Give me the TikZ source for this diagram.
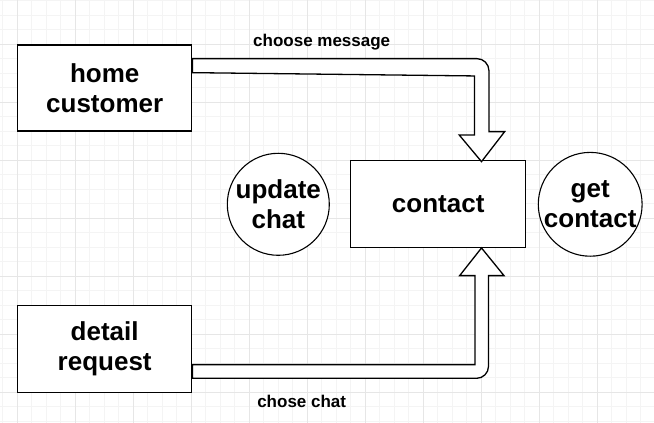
\documentclass[tikz,border=0pt]{standalone}
\usepackage{fontspec}
\setmainfont{Liberation Sans}
\usetikzlibrary{calc}
\definecolor{minorgrid}{HTML}{F4F4F4}
\definecolor{majorgrid}{HTML}{E6E6E6}
\tikzset{
  box/.style={draw, line width=1.3pt, fill=white, minimum width=174pt, minimum height=86pt,
    align=center, font=\fontsize{26}{30}\selectfont\bfseries},
  bubble/.style={draw, circle, line width=1.1pt, fill=white, minimum size=102pt, inner sep=0pt,
    align=center, font=\fontsize{26}{30}\selectfont\bfseries},
  blockarrow/.style={draw, line width=1.3pt, fill=white, line join=miter},
  lbl/.style={font=\fontsize{17}{20}\selectfont\bfseries, inner sep=0pt}
}
\begin{document}
\begin{tikzpicture}[x=1pt, y=1pt]

    \useasboundingbox (0,0) rectangle (654,423);
    \fill[white] (0,0) rectangle (654,423);
    % grid
    \foreach \x in {2.8,17.3,...,654} \draw[minorgrid, line width=0.8pt] (\x,0) -- (\x,423);
    \foreach \y in {1.7,16.2,...,423} \draw[minorgrid, line width=0.8pt] (0,\y) -- (654,\y);
    \foreach \x in {17.3,75.3,...,654} \draw[majorgrid, line width=0.8pt] (\x,0) -- (\x,423);
    \foreach \y in {30.7,88.7,...,423} \draw[majorgrid, line width=0.8pt] (0,\y) -- (654,\y);

    \node[box] (home) at (104.7, 335) {home\\customer};
    \node[box, minimum width=175pt, minimum height=87pt] (contact) at (438.2, 218.8) {contact};
    \node[box, minimum height=87pt] (detail) at (104.7, 73.8) {detail\\request};
    \node[bubble] (update) at (278.3, 218.7) {update\\chat};
    \node[bubble] (get) at (590.2, 218.7) {get\\contact};

    \node[lbl] (msg) at (321.7, 381.3) {choose message};
    \node[lbl] (chat) at (301.7, 21.3) {chose chat};

    % home -> contact
    \draw[blockarrow] ($(home.north east)+(0,-14.3)$) -- ++(284.6,0)
        arc[start angle=90, end angle=0, radius=12] -- ++(0,-61)
        -- ++(15.7,0) -- ($(contact.north)+(43.3,-1.6)$) -- ++(-22.3,26.7)
        -- ++(15.3,0) -- ++(0,59) -- ($(home.north east)+(0,-28.3)$) -- cycle;
    % detail -> contact
    \draw[blockarrow] ($(detail.south east)+(0,28.7)$) -- ++(282.6,0)
        -- ++(0,89) -- ++(-15.3,0) -- ($(contact.south)+(43.3,0.4)$) -- ++(22.5,-27.7)
        -- ++(-15.5,0) -- ++(0,-90.7)
        arc[start angle=0, end angle=-90, radius=12] -- ($(detail.south east)+(0,15)$) -- cycle;

\end{tikzpicture}
\end{document}
